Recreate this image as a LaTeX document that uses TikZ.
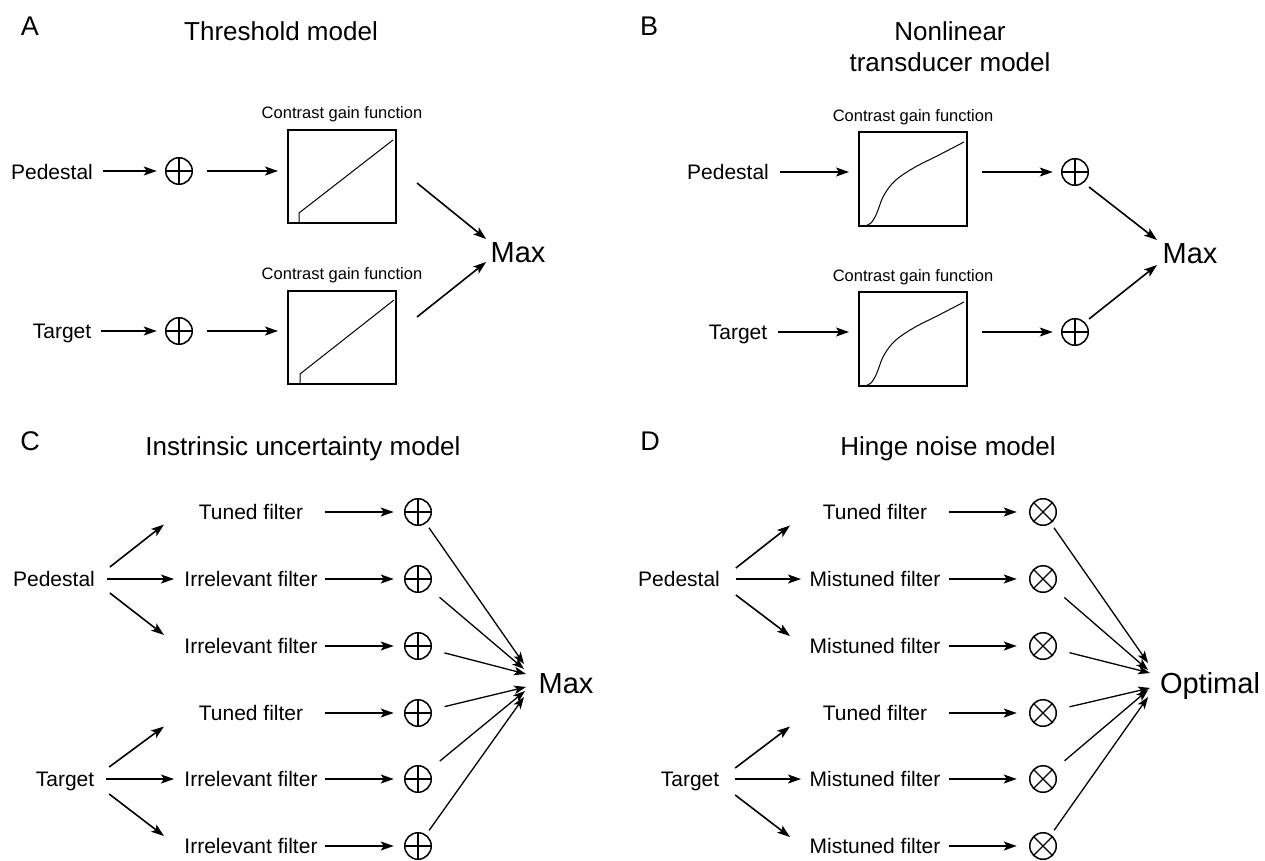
\documentclass[tikz,border=0pt]{standalone}
\usepackage{fontspec}
\setmainfont{Liberation Sans}
\usetikzlibrary{arrows.meta}
\begin{document}
\begin{tikzpicture}[x=1pt,y=-1pt,
  every node/.style={inner sep=0pt, outer sep=0pt},
  lab/.style={font=\fontsize{21}{25}\selectfont, text height=15pt, text depth=0pt},
  ttl/.style={font=\fontsize{26}{31}\selectfont, text height=18.6pt, text depth=0pt},
  big/.style={font=\fontsize{29}{34}\selectfont, text height=20.8pt, text depth=0pt},
  small/.style={font=\fontsize{16.5}{20}\selectfont, text height=11.8pt, text depth=0pt},
  letter/.style={font=\fontsize{27}{32}\selectfont, text height=19.3pt, text depth=0pt},
  filt/.style={lab, minimum width=148pt},
  gainbox/.style={draw, line width=1.8pt, minimum width=108pt, minimum height=93pt},
  sum/.style={circle, draw, line width=1.5pt, minimum size=26.5pt,
    path picture={\draw[line width=1.3pt] (path picture bounding box.north) -- (path picture bounding box.south) (path picture bounding box.west) -- (path picture bounding box.east);}},
  prod/.style={circle, draw, line width=1.5pt, minimum size=26.5pt,
    path picture={\draw[line width=1.3pt] (path picture bounding box.north west) -- (path picture bounding box.south east) (path picture bounding box.north east) -- (path picture bounding box.south west);}},
  arr/.style={line width=1.6pt, -{Stealth[length=13pt,width=9pt,inset=3pt]}},
  arrthin/.style={line width=1.3pt, -{Stealth[length=12pt,width=8.5pt,inset=3pt]}},
  curve/.style={line width=1pt}
]
\useasboundingbox (0,0) rectangle (1265,861);

% ---------------- Panel A ----------------
\node[letter] (A) at (30,25.5) {A};
\node[ttl] (tA) at (281,31) {Threshold model};
\node[small] (gA1) at (342,113) {Contrast gain function};
\node[gainbox] (bA1) at (342,176.5) {};
\node[small] (gA2) at (342,274) {Contrast gain function};
\node[gainbox] (bA2) at (342,337.5) {};
\node[lab] (pA) at (52,171.5) {Pedestal};
\node[lab] (tgA) at (62,331) {Target};
\node[sum] (sA1) at (179,171) {};
\node[sum] (sA2) at (179,331) {};
\node[big] (mA) at (518,252) {Max};

\draw[arr, shorten <=10pt, shorten >=9pt] (pA.east |- sA1) -- (sA1.west);
\draw[arr, shorten <=10pt, shorten >=9pt] (tgA.east |- sA2) -- (sA2.west);
\draw[arr, shorten <=15pt, shorten >=10pt] (sA1.east) -- (sA1.east -| bA1.west);
\draw[arr, shorten <=15pt, shorten >=10pt] (sA2.east) -- (sA2.east -| bA2.west);
\draw[curve] ([shift={(11,0)}]bA1.south west) -- ++(0,-10) -- ([shift={(-3,10)}]bA1.north east);
\draw[curve] ([shift={(12,0)}]bA2.south west) -- ++(0,-10) -- ([shift={(-2,9)}]bA2.north east);
\draw[arr] ([shift={(21,6.5)}]bA1.east) -- ([shift={(-4.5,-13)}]mA.west);
\draw[arr] ([shift={(21,-20.5)}]bA2.east) -- ([shift={(-4.5,10)}]mA.west);

% ---------------- Panel B ----------------
\node[letter] (B) at (649,25.5) {B};
\node[ttl] (tB1) at (950,31) {Nonlinear};
\node[ttl] (tB2) at (950,62.5) {transducer model};
\node[small] (gB1) at (913,115.5) {Contrast gain function};
\node[gainbox, minimum height=94pt] (bB1) at (913,179) {};
\node[small] (gB2) at (913,275.5) {Contrast gain function};
\node[gainbox, minimum height=94pt] (bB2) at (913,339) {};
\node[lab] (pB) at (728,172) {Pedestal};
\node[lab] (tgB) at (738,332) {Target};
\node[sum] (sB1) at (1075,172) {};
\node[sum] (sB2) at (1075,332) {};
\node[big] (mB) at (1190,253) {Max};

\draw[arr, shorten <=11pt, shorten >=10pt] (pB.east) -- (pB.east -| bB1.west);
\draw[arr, shorten <=11pt, shorten >=10pt] (tgB.east) -- (tgB.east -| bB2.west);
\draw[arr, shorten <=15pt, shorten >=9pt] (bB1.east |- sB1) -- (sB1.west);
\draw[arr, shorten <=15pt, shorten >=9pt] (bB2.east |- sB2) -- (sB2.west);
\foreach \b in {bB1,bB2}{
  \begin{scope}[shift={(\b.south west)}]
    \draw[curve] plot[smooth, tension=0.6] coordinates {(3,0) (8,-0.6) (12,-3) (16,-9) (19,-16) (24,-29) (32,-41) (42,-50) (58,-60) (78,-70) (105,-84)};
  \end{scope}
}
\draw[arr] ([shift={(14,15)}]sB1.center) -- ([shift={(-5.6,-13)}]mB.west);
\draw[arr] ([shift={(14,-13)}]sB2.center) -- ([shift={(-5.6,12)}]mB.west);

% ---------------- Panel C ----------------
\node[letter] (C) at (30,441) {C};
\node[ttl] (tC) at (303,446) {Instrinsic uncertainty model};
\node[lab] (pC) at (54,579) {Pedestal};
\node[lab] (tgC) at (65,779) {Target};
\node[big] (mC) at (566,683) {Max};
\foreach \i/\y/\t in {1/512/Tuned filter, 2/579/Irrelevant filter, 3/646/Irrelevant filter, 4/713/Tuned filter, 5/779/Irrelevant filter, 6/846/Irrelevant filter}{
  \node[filt] (fC\i) at (251,\y) {\t};
  \node[sum] (sC\i) at (418,\y) {};
  \draw[arr, shorten >=11pt] (fC\i.east) -- (sC\i.west);
}
\draw[arr] ([shift={(15,-12)}]pC.east) -- ([shift={(-13,12.5)}]fC1.west);
\draw[arr, shorten <=12pt, shorten >=3pt] (pC.east) -- (fC2.west);
\draw[arr] ([shift={(15,14)}]pC.east) -- ([shift={(-13,-11)}]fC3.west);
\draw[arr] ([shift={(15,-12)}]tgC.east) -- ([shift={(-13,13.5)}]fC4.west);
\draw[arr, shorten <=12pt, shorten >=3pt] (tgC.east) -- (fC5.west);
\draw[arr] ([shift={(15,15)}]tgC.east) -- ([shift={(-13,-10)}]fC6.west);

\coordinate (eC1) at ([shift={(-14.6,-19)}]mC.west);
\coordinate (eC2) at ([shift={(-14.6,-14)}]mC.west);
\coordinate (eC3) at ([shift={(-12.6,-9)}]mC.west);
\coordinate (eC4) at ([shift={(-12.6,4)}]mC.west);
\coordinate (eC5) at ([shift={(-13.6,8)}]mC.west);
\coordinate (eC6) at ([shift={(-14.6,14)}]mC.west);
\draw[arrthin, shorten <=6pt] (sC1) -- (eC1);
\draw[arrthin, shorten <=15pt] (sC2) -- (eC2);
\draw[arrthin, shorten <=14pt] (sC3) -- (eC3);
\draw[arrthin, shorten <=14pt] (sC4) -- (eC4);
\draw[arrthin, shorten <=15pt] (sC5) -- (eC5);
\draw[arrthin, shorten <=6pt] (sC6) -- (eC6);

% ---------------- Panel D ----------------
\node[letter] (D) at (650,441) {D};
\node[ttl] (tD) at (948,446) {Hinge noise model};
\node[lab] (pD) at (679,579) {Pedestal};
\node[lab] (tgD) at (690,779) {Target};
\node[big] (mD) at (1210,683) {Optimal};
\foreach \i/\y/\t in {1/512/Tuned filter, 2/579/Mistuned filter, 3/646/Mistuned filter, 4/713/Tuned filter, 5/779/Mistuned filter, 6/846/Mistuned filter}{
  \node[filt] (fD\i) at (875,\y) {\t};
  \node[prod] (sD\i) at (1043,\y) {};
  \draw[arr, shorten >=13pt] (fD\i.east) -- (sD\i.west);
}
\draw[arr] ([shift={(16,-11)}]pD.east) -- ([shift={(-11,13.5)}]fD1.west);
\draw[arr, shorten <=16pt] (pD.east) -- (fD2.west);
\draw[arr] ([shift={(16,16)}]pD.east) -- ([shift={(-11,-10)}]fD3.west);
\draw[arr] ([shift={(16,-11)}]tgD.east) -- ([shift={(-11,13.5)}]fD4.west);
\draw[arr, shorten <=16pt] (tgD.east) -- (fD5.west);
\draw[arr] ([shift={(16,16)}]tgD.east) -- ([shift={(-11,-9)}]fD6.west);

\coordinate (eD1) at ([shift={(-12,-20)}]mD.west);
\coordinate (eD2) at ([shift={(-12,-13)}]mD.west);
\coordinate (eD3) at ([shift={(-10,-10)}]mD.west);
\coordinate (eD4) at ([shift={(-10,5)}]mD.west);
\coordinate (eD5) at ([shift={(-12,7)}]mD.west);
\coordinate (eD6) at ([shift={(-12,14)}]mD.west);
\draw[arrthin, shorten <=6pt] (sD1) -- (eD1);
\draw[arrthin, shorten <=15pt] (sD2) -- (eD2);
\draw[arrthin, shorten <=14pt] (sD3) -- (eD3);
\draw[arrthin, shorten <=14pt] (sD4) -- (eD4);
\draw[arrthin, shorten <=15pt] (sD5) -- (eD5);
\draw[arrthin, shorten <=6pt] (sD6) -- (eD6);
\end{tikzpicture}
\end{document}
